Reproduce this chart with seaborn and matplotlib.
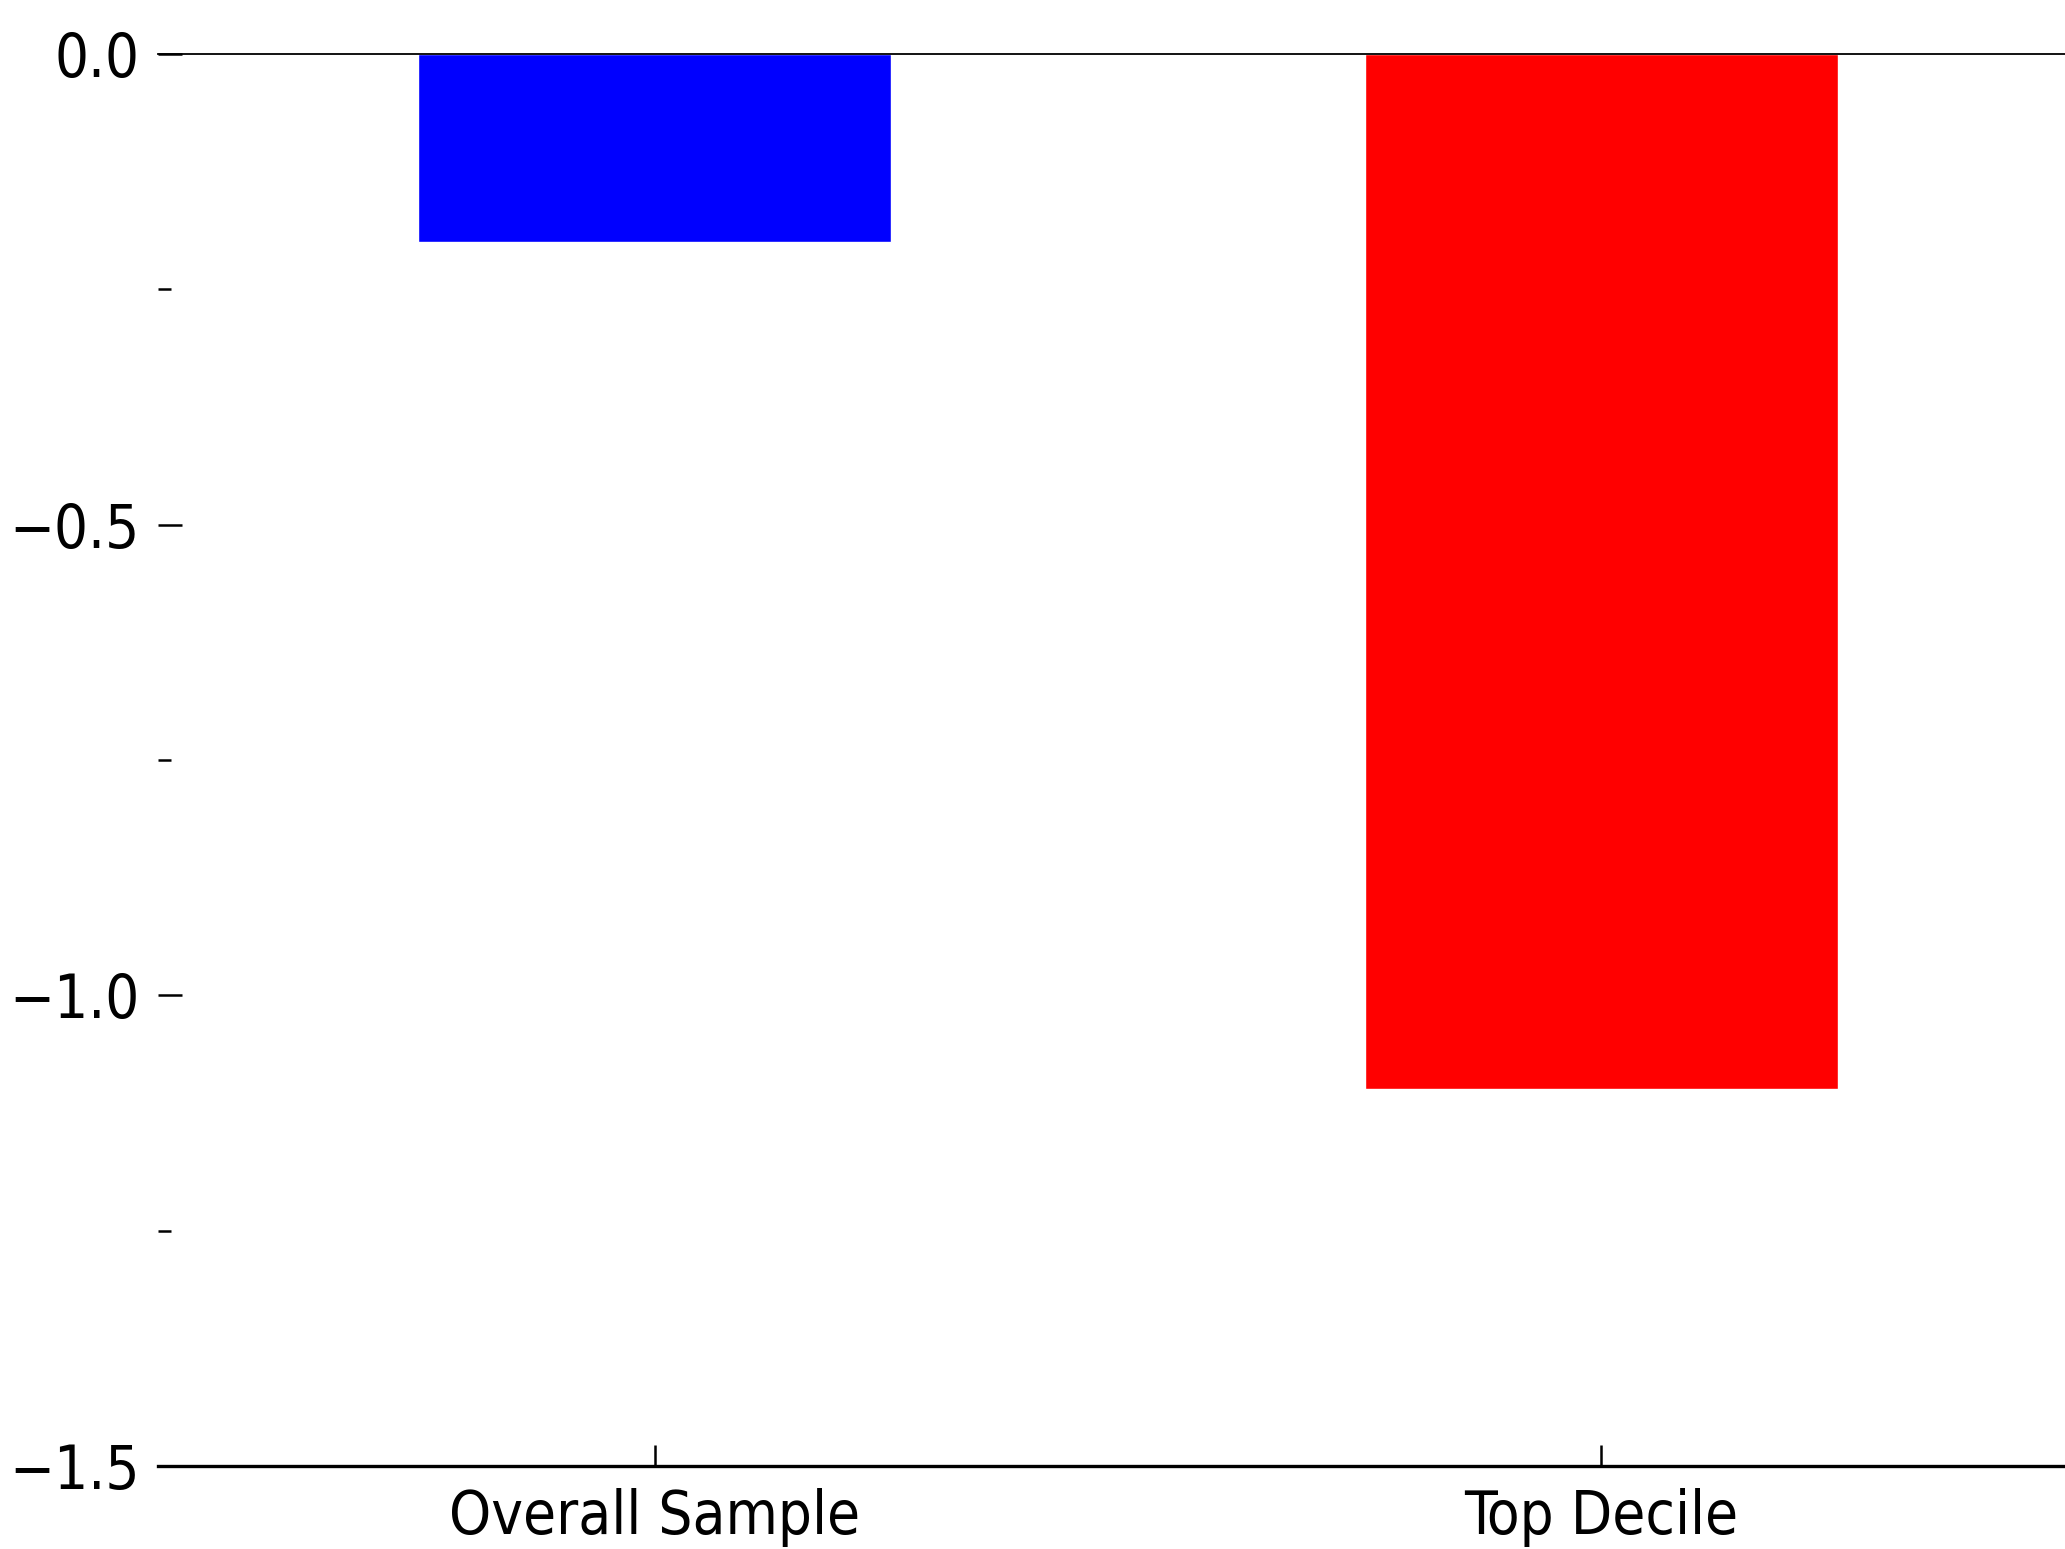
import matplotlib
matplotlib.use("Agg")
import matplotlib.pyplot as plt
import seaborn as sns
import pandas as pd
from matplotlib.ticker import MultipleLocator

# ---------- data ----------
groups = ["Overall Sample", "Top Decile"]
values = [-0.2, -1.1]
bar_colors = ["#0000ff", "#ff0000"]

df = pd.DataFrame({"group": groups, "value": values})

# ---------- style ----------
sns.set_style("ticks")
plt.rcParams["font.family"] = ["DejaVu Sans"]
plt.rcParams["font.stretch"] = "condensed"
plt.rcParams["text.color"] = "black"
plt.rcParams["xtick.color"] = "black"
plt.rcParams["ytick.color"] = "black"
plt.rcParams["xtick.labelcolor"] = "black"
plt.rcParams["ytick.labelcolor"] = "black"
plt.rcParams["axes.edgecolor"] = "black"

fig = plt.figure(figsize=(20.65, 15.49), dpi=100)
ax = fig.add_axes([0.0765, 0.0536, 0.9235, 0.9115])

sns.barplot(data=df, x="group", y="value", hue="group", palette=bar_colors,
            width=0.5, legend=False, saturation=1, ax=ax)

ax.set_xlim(-0.525, 1.49)
ax.set_ylim(-1.5, 0.0)
ax.yaxis.set_major_locator(MultipleLocator(0.5))
ax.yaxis.set_minor_locator(MultipleLocator(0.25))

ax.spines["left"].set_visible(False)
ax.spines["right"].set_visible(False)
ax.spines["top"].set_linewidth(1.3)
ax.spines["bottom"].set_linewidth(2.4)

ax.tick_params(axis="both", which="major", direction="in", length=17, width=1.8,
               labelsize=43, pad=13)
ax.tick_params(axis="y", which="minor", direction="in", length=9, width=1.8)
ax.tick_params(axis="x", which="major", length=15, width=1.8, pad=16)

ax.set_xlabel("")
ax.set_ylabel("")

fig.savefig("out.png", dpi=100)
